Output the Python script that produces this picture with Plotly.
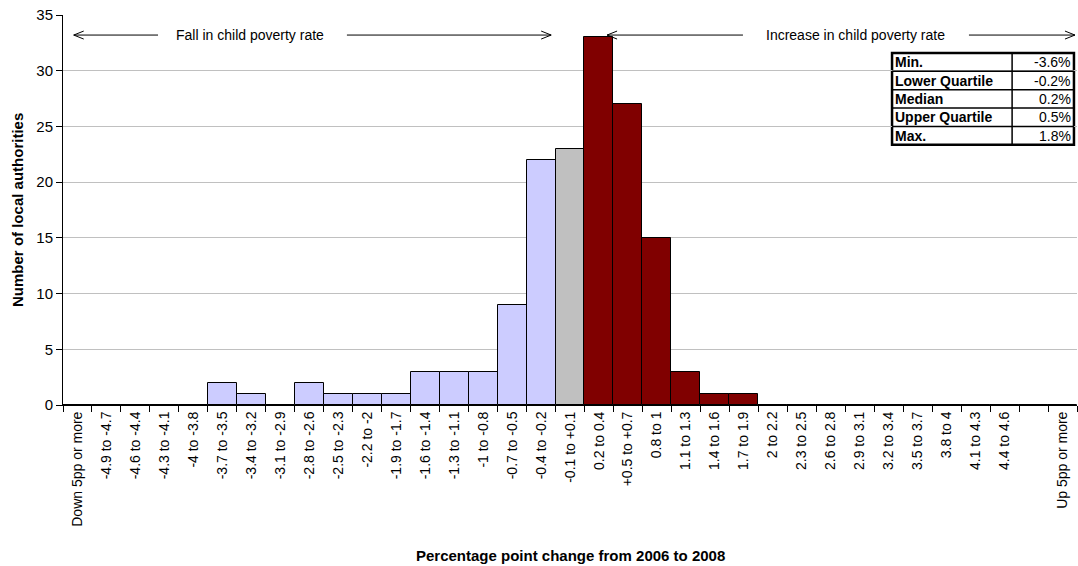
import plotly.graph_objects as go

# categories of percentage point change (one bar each)
categories = ["Down 5pp or more", "-4.9 to -4.7", "-4.6 to -4.4", "-4.3 to -4.1", "-4 to -3.8",
              "-3.7 to -3.5", "-3.4 to -3.2", "-3.1 to -2.9", "-2.8 to -2.6", "-2.5 to -2.3",
              "-2.2 to -2", "-1.9 to -1.7", "-1.6 to -1.4", "-1.3 to -1.1", "-1 to -0.8",
              "-0.7 to -0.5", "-0.4 to -0.2", "-0.1 to +0.1", "0.2 to 0.4", "+0.5 to +0.7",
              "0.8 to 1", "1.1 to 1.3", "1.4 to 1.6", "1.7 to 1.9", "2 to 2.2", "2.3 to 2.5",
              "2.6 to 2.8", "2.9 to 3.1", "3.2 to 3.4", "3.5 to 3.7", "3.8 to 4", "4.1 to 4.3",
              "4.4 to 4.6", "", "Up 5pp or more"]
counts = [0, 0, 0, 0, 0, 2, 1, 0, 2, 1, 1, 1, 3, 3, 3, 9, 22, 23, 33, 27, 15, 3, 1, 1,
          0, 0, 0, 0, 0, 0, 0, 0, 0, 0, 0]

# summary table
stat_names = ["Min.", "Lower Quartile", "Median", "Upper Quartile", "Max."]
stat_values = ["-3.6%", "-0.2%", "0.2%", "0.5%", "1.8%"]

FALL = "#CCCCFF"
FLAT = "#C0C0C0"
RISE = "#800000"
FONT = "Liberation Sans, Arial, sans-serif"

x = list(range(len(categories)))
mid = categories.index("-0.1 to +0.1")
colors = [FALL if i < mid else FLAT if i == mid else RISE for i in x]

fig = go.Figure()
fig.add_trace(go.Bar(x=x, y=counts, width=1, marker=dict(color=colors, line=dict(color="black", width=1)),
                     hoverinfo="x+y", showlegend=False))

# arrows across the top
arrow_y = 33.2
shapes = []
for x0, x1, head in [(-0.13, 2.78, "left"), (9.3, 16.35, "right"),
                     (18.28, 22.97, "left"), (30.77, 34.43, "right")]:
    shapes.append(dict(type="line", xref="x", yref="y", x0=x0, x1=x1, y0=arrow_y, y1=arrow_y,
                       line=dict(color="black", width=1)))
    hx = x0 if head == "left" else x1
    d = 10 if head == "left" else -10
    shapes.append(dict(type="path", xref="x", yref="y", xsizemode="pixel", ysizemode="pixel",
                       xanchor=hx, yanchor=arrow_y,
                       path=f"M{d},4 L0,0 L{d},-4", line=dict(color="black", width=1)))

annotations = [
    dict(x=5.95, y=arrow_y, xref="x", yref="y", text="Fall in child poverty rate", showarrow=False,
         xanchor="center", yanchor="middle", font=dict(family=FONT, size=14, color="black")),
    dict(x=26.84, y=arrow_y, xref="x", yref="y", text="Increase in child poverty rate", showarrow=False,
         xanchor="center", yanchor="middle", font=dict(family=FONT, size=14, color="black")),
    dict(x=0.5, y=-0.387, xref="paper", yref="paper", xanchor="center", yanchor="middle",
         text="<b>Percentage point change from 2006 to 2008</b>", showarrow=False,
         font=dict(family=FONT, size=15, color="black")),
    dict(x=-0.0454, y=0.5, xref="paper", yref="paper", xanchor="center", yanchor="middle", textangle=-90,
         text="<b>Number of local authorities</b>", showarrow=False,
         font=dict(family=FONT, size=15, color="black")),
]

# stats table in paper coords
tx0, tx1, tx2 = 0.8176, 0.936, 0.997
ty_top, ty_bot = 0.9026, 0.667
row_h = (ty_top - ty_bot) / len(stat_names)
for i in range(1, len(stat_names)):
    yy = ty_top - i * row_h
    shapes.append(dict(type="line", xref="paper", yref="paper", x0=tx0, x1=tx2, y0=yy, y1=yy,
                       line=dict(color="black", width=1.5)))
shapes.append(dict(type="line", xref="paper", yref="paper", x0=tx1, x1=tx1, y0=ty_bot, y1=ty_top,
                   line=dict(color="black", width=1.5)))
shapes.append(dict(type="rect", xref="paper", yref="paper", x0=tx0, x1=tx2, y0=ty_bot, y1=ty_top,
                   line=dict(color="black", width=2.5), fillcolor="white", layer="below"))
for i, (name, val) in enumerate(zip(stat_names, stat_values)):
    yc = ty_top - (i + 0.5) * row_h
    annotations.append(dict(x=tx0, y=yc, xref="paper", yref="paper", text="<b>" + name + "</b>",
                            showarrow=False, xanchor="left", yanchor="middle", xshift=1,
                            font=dict(family=FONT, size=14, color="black")))
    annotations.append(dict(x=tx2, y=yc, xref="paper", yref="paper", text=val,
                            showarrow=False, xanchor="right", yanchor="middle", xshift=-1,
                            font=dict(family=FONT, size=14, color="black")))

fig.update_layout(
    width=1078, height=566,
    margin=dict(l=63, r=1, t=15, b=161),
    paper_bgcolor="white", plot_bgcolor="white",
    bargap=0,
    font=dict(family=FONT, size=14, color="black"),
    shapes=shapes, annotations=annotations,
)
fig.update_xaxes(
    range=[-0.5, len(categories) - 0.5],
    tickmode="array", tickvals=x, ticktext=categories, tickangle=-90,
    ticks="", showgrid=False, zeroline=False,
    showline=True, linecolor="black", linewidth=1,
    minor=dict(ticks="outside", tick0=-0.5, dtick=1, ticklen=6, tickcolor="black", showgrid=False),
    tickfont=dict(family=FONT, size=14),
)
fig.update_yaxes(
    range=[0, 35], dtick=5, ticks="outside", ticklen=6, tickcolor="black",
    showline=True, linecolor="black", linewidth=1,
    showgrid=True, gridcolor="#C0C0C0", gridwidth=1, zeroline=False,
    tickfont=dict(family=FONT, size=15),
)

fig.write_html("out.html", config={"displayModeBar": False},
               post_script="document.body.style.margin='0';")
